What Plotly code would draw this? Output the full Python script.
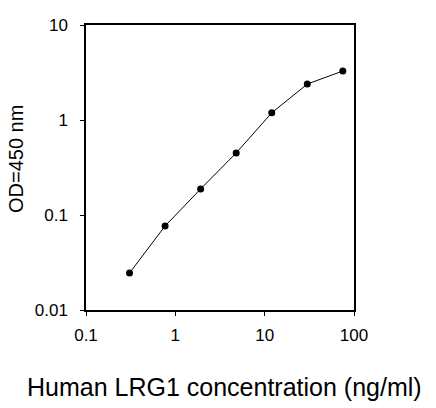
import plotly.graph_objects as go

# LRG1 standard curve
conc = [0.307, 0.768, 1.92, 4.8, 12, 30, 75]
od = [0.0245, 0.0766, 0.188, 0.45, 1.19, 2.39, 3.28]

x_ticks = [0.1, 1, 10, 100]
x_labels = ["0.1", "1", "10", "100"]
y_ticks = [0.01, 0.1, 1, 10]
y_labels = ["0.01", "0.1", "1", "10"]

font = "Liberation Sans, Arial, sans-serif"

fig = go.Figure()
fig.add_trace(go.Scatter(x=conc, y=od, mode="lines+markers",
                         line=dict(color="black", width=1),
                         marker=dict(color="black", size=7)))

axis_common = dict(showline=True, linecolor="black", linewidth=1.5, mirror=True,
                   ticks="outside", ticklen=4, tickcolor="black", tickwidth=1,
                   showgrid=False, zeroline=False, automargin=False,
                   tickfont=dict(family=font, size=17, color="black"))

fig.update_xaxes(type="log", range=[-1, 2], tickvals=x_ticks, ticktext=x_labels,
                 ticklabelstandoff=5, **axis_common)
fig.update_yaxes(type="log", range=[-2, 1], tickvals=y_ticks, ticktext=y_labels,
                 ticklabelstandoff=9, **axis_common)

# axis titles placed by hand, they are not centred on the plot in the original
fig.add_annotation(text="Human LRG1 concentration (ng/ml)", showarrow=False,
                   xref="paper", yref="paper", x=0.515, y=-0.27,
                   xanchor="center", yanchor="middle",
                   font=dict(family=font, size=25, color="black"))
fig.add_annotation(text="OD=450 nm", textangle=-90, showarrow=False,
                   xref="paper", yref="paper", x=-0.261, y=0.53,
                   xanchor="center", yanchor="middle",
                   font=dict(family=font, size=20, color="black"))

fig.update_layout(width=436, height=408, showlegend=False,
                  plot_bgcolor="white", paper_bgcolor="white",
                  margin=dict(l=86, r=82, t=25, b=98))

# drop the browser's default body margin so the figure sits at the page corner
fig.write_html("out.html", config={"displayModeBar": False},
               post_script="document.body.style.margin='0';")
